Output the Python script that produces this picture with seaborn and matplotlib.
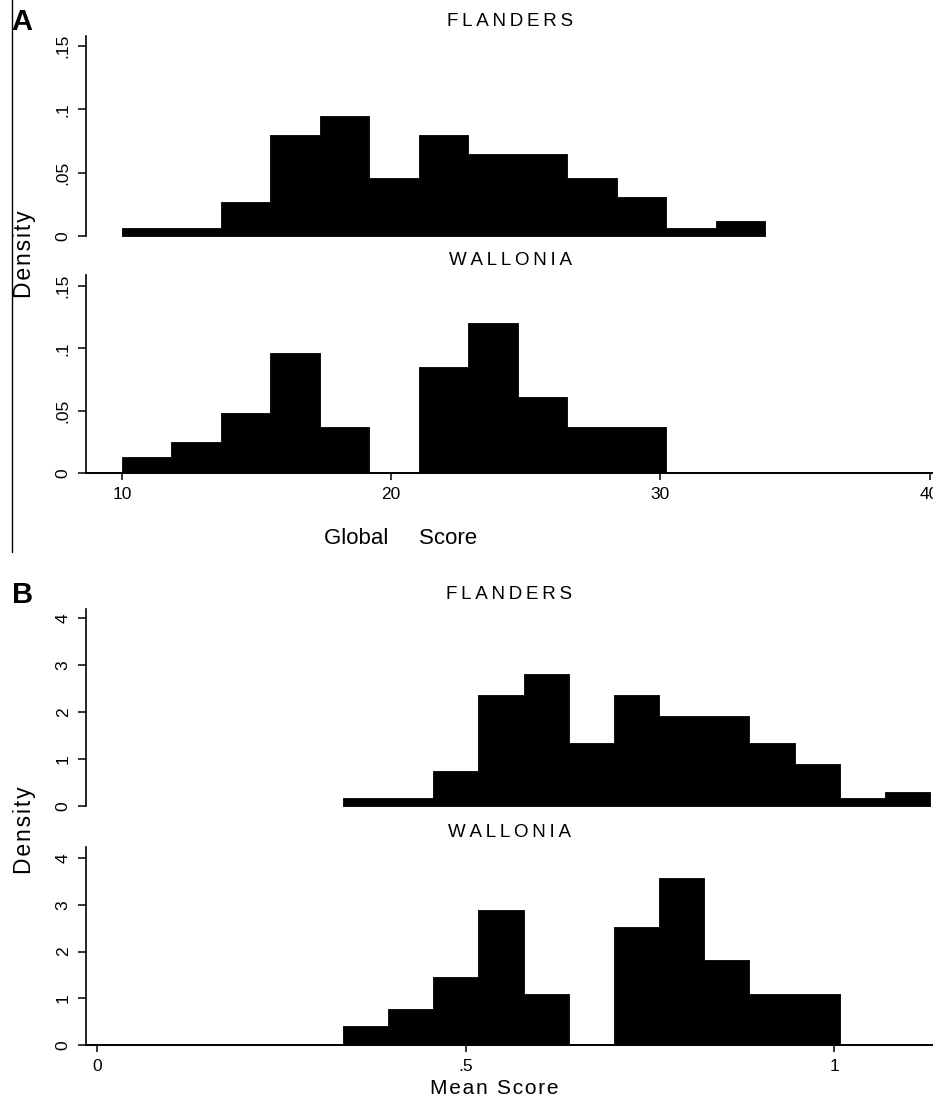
import numpy as np
import pandas as pd
import matplotlib
matplotlib.use("Agg")
import matplotlib.pyplot as plt
from matplotlib.lines import Line2D
import seaborn as sns

# histogram bins (same bins for both regions)
global_start = 10.0
global_width = 1.838
mean_start = 1 / 3
mean_width = 0.06127

# densities per bin, left to right
flanders_global = [0.0065, 0.0065, 0.0265, 0.0795, 0.0945, 0.0460, 0.0795,
                   0.0650, 0.0650, 0.0460, 0.0305, 0.0065, 0.0115]
wallonia_global = [0.0130, 0.0245, 0.0480, 0.0960, 0.0365, 0.0, 0.0850,
                   0.1200, 0.0610, 0.0365, 0.0365]
flanders_mean = [0.17, 0.17, 0.75, 2.37, 2.82, 1.35, 2.37, 1.92, 1.92,
                 1.35, 0.90, 0.17, 0.30]
wallonia_mean = [0.40, 0.77, 1.45, 2.90, 1.10, 0.0, 2.53, 3.58, 1.82,
                 1.10, 1.10]

global_yticks = [0, 0.05, 0.1, 0.15]
global_ylabels = ["0", ".05", ".1", ".15"]
global_xticks = [10, 20, 30, 40]
mean_yticks = [0, 1, 2, 3, 4]
mean_xticks = [0, 0.5, 1]
mean_xlabels = ["0", ".5", "1"]

sns.set_style("ticks")
plt.rcParams["font.family"] = ["Liberation Sans", "DejaVu Sans"]
plt.rcParams["text.color"] = "black"
plt.rcParams["axes.labelcolor"] = "black"
plt.rcParams["xtick.color"] = "black"
plt.rcParams["ytick.color"] = "black"

W, H = 933, 1099
fig = plt.figure(figsize=(W / 100, H / 100), dpi=100)


def spaced(s, sep="\u2009"):
    return sep.join(s)


def px_axes(left, top, right, bottom):
    return fig.add_axes([left / W, 1 - bottom / H, (right - left) / W, (bottom - top) / H])


def draw_hist(ax, start, width, heights):
    edges = list(start + width * np.arange(len(heights) + 1))
    df = pd.DataFrame({"score": np.array(edges[:-1]) + width / 2, "density": heights})
    sns.histplot(data=df, x="score", weights="density", bins=edges, stat="count",
                 element="step", fill=True, color="black", alpha=1,
                 linewidth=0.6, ax=ax)
    ax.set_xlabel("")
    ax.set_ylabel("")


def style_axes(ax, title, yticks, ylabels, bottom_axis):
    ax.set_title(spaced(title), fontsize=13.5, pad=7.5, color="black")
    ax.set_yticks(yticks)
    ax.set_yticklabels(ylabels, fontsize=12.5)
    plt.setp(ax.get_yticklabels(), rotation=90, va="center")
    ax.tick_params(axis="y", length=6, width=1.1, pad=5, colors="black")
    sns.despine(ax=ax, top=True, right=True, bottom=not bottom_axis)
    ax.spines["left"].set_linewidth(1.2)
    ax.spines["left"].set_color("black")
    if bottom_axis:
        ax.spines["bottom"].set_linewidth(1.4)
        ax.spines["bottom"].set_color("black")
        ax.tick_params(axis="x", length=5, width=1.1, pad=5, labelsize=12.5, colors="black")
    else:
        ax.set_xticks([])


# panel A: global score
ax1 = px_axes(86, 36, 934, 236)
draw_hist(ax1, global_start, global_width, flanders_global)
ax1.set_xlim(8.663, 40.16)
ax1.set_ylim(0, 0.158)
style_axes(ax1, "FLANDERS", global_yticks, global_ylabels, False)

ax2 = px_axes(86, 275, 934, 473)
draw_hist(ax2, global_start, global_width, wallonia_global)
ax2.set_xlim(8.663, 40.16)
ax2.set_ylim(0, 0.1588)
style_axes(ax2, "WALLONIA", global_yticks, global_ylabels, True)
ax2.set_xticks(global_xticks)
ax2.set_xticklabels([str(t) for t in global_xticks])

# panel B: mean score
ax3 = px_axes(86, 609, 933, 806)
draw_hist(ax3, mean_start, mean_width, flanders_mean)
ax3.set_xlim(-0.0149, 1.1336)
ax3.set_ylim(0, 4.2)
style_axes(ax3, "FLANDERS", mean_yticks, [str(t) for t in mean_yticks], False)

ax4 = px_axes(86, 847, 933, 1045)
draw_hist(ax4, mean_start, mean_width, wallonia_mean)
ax4.set_xlim(-0.0149, 1.1336)
ax4.set_ylim(0, 4.24)
style_axes(ax4, "WALLONIA", mean_yticks, [str(t) for t in mean_yticks], True)
ax4.set_xticks(mean_xticks)
ax4.set_xticklabels(mean_xlabels)

# shared labels
fig.text(24 / W, 1 - 254 / H, spaced("Density", "\u200a"), rotation=90, ha="center", va="center", fontsize=16.5)
fig.text(24 / W, 1 - 830 / H, spaced("Density", "\u200a"), rotation=90, ha="center", va="center", fontsize=16.5)
fig.text(401 / W, 1 - 539 / H, "Global     Score", ha="center", va="center", fontsize=16)
fig.text(494 / W, 1 - 1089 / H, spaced("Mean Score", "\u200a"), ha="center", va="center", fontsize=15)

fig.text(22 / W, 1 - 22 / H, "A", ha="center", va="center", fontsize=21, fontweight="bold")
fig.text(23 / W, 1 - 595 / H, "B", ha="center", va="center", fontsize=21, fontweight="bold")
fig.add_artist(Line2D([12 / W, 12 / W], [1, 1 - 552 / H], color="black", lw=1))

fig.savefig("out.png", dpi=100)
